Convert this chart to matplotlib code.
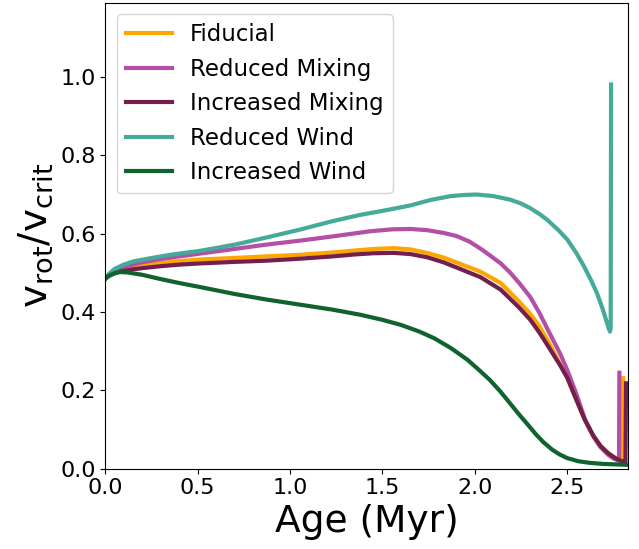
import matplotlib
matplotlib.use("Agg")
import matplotlib.pyplot as plt

# Fiducial
fid_age = [0, 0.02, 0.04, 0.07, 0.1, 0.15, 0.2, 0.3, 0.4, 0.51, 0.7, 0.87, 1.05, 1.23, 1.35, 1.45,
           1.56, 1.65, 1.74, 1.83, 1.92, 2.03, 2.14, 2.24, 2.30, 2.35, 2.40, 2.44, 2.50, 2.55,
           2.59, 2.64, 2.68, 2.72, 2.76, 2.79, 2.80, 2.803]
fid_v = [0.485, 0.493, 0.500, 0.506, 0.510, 0.515, 0.519, 0.525, 0.530, 0.534, 0.538, 0.542, 0.546, 0.552, 0.557, 0.561,
         0.563, 0.560, 0.551, 0.539, 0.523, 0.503, 0.474, 0.426, 0.395, 0.363, 0.322, 0.286, 0.232, 0.175,
         0.13, 0.085, 0.058, 0.040, 0.027, 0.020, 0.018, 0.231]

# Reduced Mixing
rmix_age = [0, 0.02, 0.04, 0.07, 0.1, 0.15, 0.2, 0.3, 0.4, 0.51, 0.7, 0.87, 1.05, 1.23, 1.43, 1.55,
            1.65, 1.74, 1.83, 1.90, 1.97, 2.03, 2.08, 2.14, 2.19, 2.24, 2.30, 2.35, 2.40, 2.46,
            2.50, 2.55, 2.60, 2.64, 2.68, 2.72, 2.75, 2.78, 2.782]
rmix_v = [0.485, 0.496, 0.505, 0.511, 0.515, 0.521, 0.527, 0.535, 0.542, 0.549, 0.561, 0.572, 0.582, 0.593, 0.606, 0.611,
          0.612, 0.609, 0.602, 0.594, 0.580, 0.562, 0.545, 0.524, 0.501, 0.474, 0.438, 0.397, 0.350, 0.295,
          0.252, 0.19, 0.12, 0.083, 0.055, 0.036, 0.026, 0.020, 0.245]

# Increased Mixing
imix_age = [0, 0.02, 0.04, 0.07, 0.1, 0.15, 0.2, 0.3, 0.4, 0.51, 0.7, 0.87, 1.05, 1.23, 1.35, 1.45,
            1.56, 1.65, 1.74, 1.83, 1.92, 2.03, 2.14, 2.24, 2.30, 2.35, 2.40, 2.46, 2.50, 2.55,
            2.59, 2.64, 2.68, 2.72, 2.76, 2.80, 2.815, 2.818]
imix_v = [0.485, 0.492, 0.497, 0.502, 0.505, 0.509, 0.512, 0.517, 0.521, 0.524, 0.528, 0.531, 0.536, 0.542, 0.547, 0.550,
          0.551, 0.548, 0.540, 0.527, 0.510, 0.489, 0.457, 0.411, 0.380, 0.347, 0.310, 0.265, 0.232, 0.175,
          0.13, 0.085, 0.058, 0.040, 0.027, 0.018, 0.017, 0.218]

# Reduced Wind
rwind_age = [0, 0.02, 0.05, 0.1, 0.15, 0.24, 0.35, 0.51, 0.7, 0.87, 1.05, 1.23, 1.38, 1.52, 1.65,
             1.76, 1.87, 1.95, 2.01, 2.10, 2.19, 2.25, 2.30, 2.35, 2.39, 2.45, 2.50, 2.55, 2.59,
             2.63, 2.66, 2.69, 2.71, 2.725, 2.731, 2.735, 2.737]
rwind_v = [0.485, 0.497, 0.510, 0.521, 0.529, 0.537, 0.546, 0.556, 0.572, 0.590, 0.610, 0.632, 0.648, 0.660, 0.672,
           0.686, 0.696, 0.699, 0.700, 0.696, 0.687, 0.677, 0.665, 0.650, 0.636, 0.610, 0.585, 0.550, 0.517,
           0.480, 0.449, 0.410, 0.380, 0.357, 0.350, 0.360, 0.981]

# Increased Wind
iwind_age = [0, 0.02, 0.05, 0.08, 0.12, 0.2, 0.3, 0.4, 0.51, 0.7, 0.87, 1.05, 1.23, 1.38, 1.5, 1.6,
             1.7, 1.78, 1.87, 1.96, 2.02, 2.08, 2.14, 2.19, 2.24, 2.28, 2.33, 2.37, 2.42, 2.46,
             2.50, 2.56, 2.62, 2.70, 2.82]
iwind_v = [0.485, 0.493, 0.499, 0.502, 0.501, 0.495, 0.484, 0.474, 0.464, 0.446, 0.432, 0.419, 0.406, 0.393, 0.380, 0.367,
           0.350, 0.333, 0.308, 0.278, 0.253, 0.227, 0.196, 0.167, 0.138, 0.116, 0.088, 0.068, 0.048, 0.036,
           0.027, 0.019, 0.015, 0.012, 0.010]

labels = ["Fiducial", "Reduced Mixing", "Increased Mixing", "Reduced Wind", "Increased Wind"]
colors = ["#FFA500", "#B44FA5", "#721F4E", "#44AA99", "#10622E"]

fig = plt.figure(figsize=(6.39, 5.49), dpi=100)
ax = fig.add_axes([0.1648, 0.1463, 0.8175, 0.849])

series = [(fid_age, fid_v), (rmix_age, rmix_v), (imix_age, imix_v),
          (rwind_age, rwind_v), (iwind_age, iwind_v)]
for (x, y), lab, c in zip(series, labels, colors):
    ax.plot(x, y, color=c, lw=3, label=lab, solid_joinstyle="round")

ax.set_xlim(0, 2.827)
ax.set_ylim(0, 1.19)
ax.set_xticks([0.0, 0.5, 1.0, 1.5, 2.0, 2.5])
ax.set_yticks([0.0, 0.2, 0.4, 0.6, 0.8, 1.0])
ax.tick_params(labelsize=16)
ax.set_xlabel("Age (Myr)", fontsize=27)
ax.set_ylabel(r"$\mathrm{v_{rot}/v_{crit}}$", fontsize=28)
ax.legend(loc="upper left", fontsize=16.5)

fig.savefig("out.png", dpi=100)
